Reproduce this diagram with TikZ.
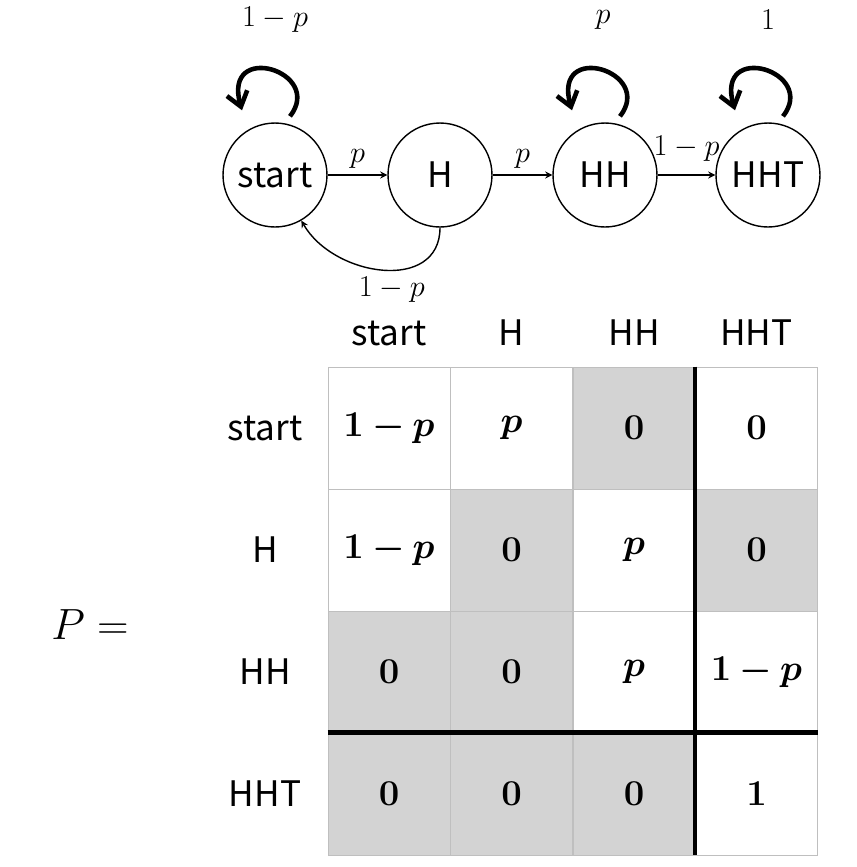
\documentclass[tikz,border=0pt]{standalone}
\usepackage{amsmath,amssymb,bm}
\usepackage{fontspec}
\setsansfont{Noto Sans CJK JP}
\usetikzlibrary{arrows, arrows.meta, calc}
\definecolor{cellgray}{RGB}{211,211,211}
\begin{document}
\begin{tikzpicture}[x=0.02cm,y=-0.02cm,>=stealth,
  state/.style={circle,draw,thick,minimum size=2.08cm,inner sep=0pt,font=\sffamily\fontsize{20}{24}\selectfont},
  trans/.style={->,thick},
  selfloop/.style={-{Straight Barb[length=8pt,width=12pt]},line width=2.6pt},
  lbl/.style={font=\fontsize{18}{22}\selectfont},
  head/.style={font=\sffamily\fontsize{20}{24}\selectfont},
  cell/.style={draw=black!25,minimum size=2.44cm,inner sep=0pt,font=\fontsize{20}{24}\selectfont}]
  \useasboundingbox (0,0) rectangle (857,867);
  % states
  \node[state] (start) at (275,175) {start};
  \node[state] (H) at (440,175) {H};
  \node[state] (HH) at (605,175) {HH};
  \node[state] (HHT) at (768,175) {HHT};
  % transitions
  \draw[trans] (start) -- node[lbl,above] {$p$} (H);
  \draw[trans] (H) -- node[lbl,above] {$p$} (HH);
  \draw[trans] (HH) -- node[lbl,above,yshift=4pt] {$1-p$} (HHT);
  \draw[trans] (H.south) to[out=-90,in=-60,looseness=1.2] node[lbl,below,pos=0.45] {$1-p$} (start.-60);
  % self loops
  \foreach \s in {start,HH,HHT}
    \draw[selfloop] ($(\s.north)+(15,-6)$) .. controls +(35,-45) and +(-20,-70) .. ($(\s.north)+(-33,-12)$);
  \node[lbl] at (275,20) {$1-p$};
  \node[lbl] at (603,20) {$p$};
  \node[lbl] at (768,20) {$1$};
  % matrix
  \node[font=\fontsize{78}{90}\selectfont] (Peq) at (90,625) {$P=$};
  \foreach \n [count=\i from 0] in {start,H,HH,HHT} {
    \node[head] (col\i) at (389+122.5*\i,333) {\n};
    \node[head] (row\i) at (265,428+122*\i) {\n};
  }
  \foreach \r/\c/\f/\v in {0/0/white/1-p,0/1/white/p,0/2/cellgray/0,0/3/white/0,
      1/0/white/1-p,1/1/cellgray/0,1/2/white/p,1/3/cellgray/0,
      2/0/cellgray/0,2/1/cellgray/0,2/2/white/p,2/3/white/1-p,
      3/0/cellgray/0,3/1/cellgray/0,3/2/cellgray/0,3/3/white/1}
    \node[cell,fill=\f] (c\r\c) at (389+122.5*\c,428+122*\r) {$\bm{\v}$};
  \draw[line width=2.5pt] (c03.north west) -- (c33.south west);
  \draw[line width=2.5pt] (c30.north west) -- (c33.north east);
\end{tikzpicture}
\end{document}
